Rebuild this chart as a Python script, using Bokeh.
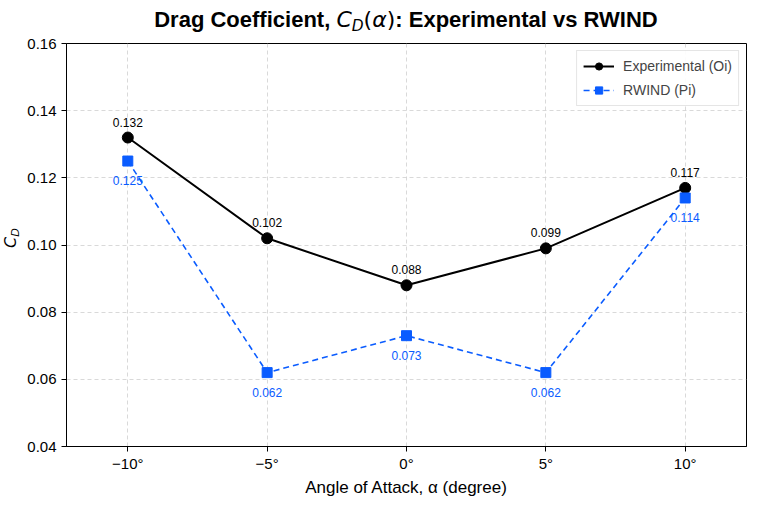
from bokeh.core.properties import value
from bokeh.embed import file_html
from bokeh.layouts import column, row
from bokeh.models import (ColumnDataSource, Div, FixedTicker, LabelSet,
                          Legend, LegendItem)
from bokeh.plotting import figure
from bokeh.resources import INLINE

# Drag coefficient against angle of attack
angles = [-10, -5, 0, 5, 10]
cd_experimental = [0.132, 0.102, 0.088, 0.099, 0.117]
cd_rwind = [0.125, 0.062, 0.073, 0.062, 0.114]
x_tick_labels = ["\u221210\u00b0", "\u22125\u00b0", "0\u00b0", "5\u00b0", "10\u00b0"]
y_ticks = [0.04, 0.06, 0.08, 0.10, 0.12, 0.14, 0.16]

FONT = "Liberation Sans"
MATH = "DejaVu Sans"
BLUE = "#0a5cff"

src_exp = ColumnDataSource(dict(
    x=angles, y=cd_experimental, txt=[f"{v:.3f}" for v in cd_experimental]))
src_rw = ColumnDataSource(dict(
    x=angles, y=cd_rwind, txt=[f"{v:.3f}" for v in cd_rwind]))

p = figure(width=736, height=474, x_range=(-12.2, 12.2), y_range=(0.04, 0.16),
           output_backend="svg", toolbar_location=None,
           min_border_left=42, min_border_right=14,
           min_border_top=10, min_border_bottom=61)
p.background_fill_color = "white"
p.border_fill_color = "white"
p.outline_line_color = "black"
p.outline_line_width = 1

# axes
p.xaxis.ticker = FixedTicker(ticks=angles)
p.xaxis.major_label_overrides = {a: t for a, t in zip(angles, x_tick_labels)}
p.yaxis.ticker = FixedTicker(ticks=y_ticks)
p.yaxis.major_label_overrides = {v: f"{v:.2f}" for v in y_ticks}
for ax in (p.xaxis[0], p.yaxis[0]):
    ax.major_label_text_font = FONT
    ax.major_label_text_font_size = "15px"
    ax.major_label_text_color = "black"
    ax.minor_tick_line_color = None
    ax.major_tick_in = 0
    ax.major_tick_out = 5
    ax.major_tick_line_color = "black"
    ax.axis_line_color = "black"
    ax.major_label_standoff = 5
p.xaxis.major_label_standoff = 3
p.xaxis.axis_label = "Angle of Attack, \u03b1 (degree)"
p.xaxis.axis_label_text_font = FONT
p.xaxis.axis_label_text_font_style = "normal"
p.xaxis.axis_label_text_font_size = "17px"
p.xaxis.axis_label_text_color = "black"
p.xaxis.axis_label_standoff = 3

# grid
for g in (p.xgrid[0], p.ygrid[0]):
    g.grid_line_color = "#d0d0d0"
    g.grid_line_dash = "4 3"
    g.grid_line_alpha = 0.8

# series
l_exp = p.line("x", "y", source=src_exp, line_color="black", line_width=2)
m_exp = p.scatter("x", "y", source=src_exp, marker="circle", size=11,
                  fill_color="black", line_color="black")
l_rw = p.line("x", "y", source=src_rw, line_color=BLUE, line_width=1.6,
              line_dash="6 4")
m_rw = p.scatter("x", "y", source=src_rw, marker="square", size=10,
                 fill_color=BLUE, line_color=BLUE)

# value annotations
p.add_layout(LabelSet(x="x", y="y", text="txt", source=src_exp,
                      text_align="center", text_baseline="bottom", y_offset=11,
                      text_font=value(FONT), text_font_size="12px",
                      text_color="black"))
p.add_layout(LabelSet(x="x", y="y", text="txt", source=src_rw,
                      text_align="center", text_baseline="top", y_offset=-15,
                      text_font=value(FONT), text_font_size="12px",
                      text_color=BLUE))

# legend
legend = Legend(items=[LegendItem(label="Experimental (Oi)", renderers=[l_exp, m_exp]),
                       LegendItem(label="RWIND (Pi)", renderers=[l_rw, m_rw])],
                location="top_right")
legend.label_text_font = FONT
legend.label_text_font_size = "14px"
legend.border_line_color = "#cccccc"
legend.border_line_width = 1
legend.background_fill_color = "white"
legend.background_fill_alpha = 0.9
legend.glyph_width = 31
legend.glyph_height = 18
legend.label_height = 18
legend.spacing = 6
legend.padding = 6
legend.margin = 7
legend.label_standoff = 9
p.add_layout(legend)

# title with the C_D(alpha) symbol set as math
title = Div(
    text=(
        "<div style=\"width:680px; margin-left:66px; padding-top:8px; "
        "text-align:center; white-space:nowrap; font-family:'Liberation Sans'; "
        "font-weight:bold; font-size:22px; line-height:24px; color:black;\">"
        "Drag Coefficient, "
        f"<span style=\"font-family:'{MATH}'; font-weight:normal; font-style:italic;\">C"
        "<span style=\"font-size:70%; position:relative; top:4px;\">D</span></span>"
        f"<span style=\"font-family:'{MATH}'; font-weight:normal;\">(<i>\u03b1</i>)</span>"
        ": Experimental vs RWIND</div>"
    ),
    width=760, height=33, margin=0)

# y axis label: C_D, rotated
ylabel = Div(
    text=(
        "<div style=\"width:24px; height:410px; display:flex; align-items:center; "
        "justify-content:center;\">"
        f"<div style=\"transform:rotate(-90deg); white-space:nowrap; font-family:'{MATH}'; "
        "font-style:italic; font-size:16px; line-height:16px; color:black;\">C"
        "<span style=\"font-size:70%; position:relative; top:3px;\">D</span></div></div>"
    ),
    width=24, height=474, margin=0)

layout = column(title, row(ylabel, p, spacing=0), spacing=0)

open("out.html", "w").write(file_html(layout, INLINE))
